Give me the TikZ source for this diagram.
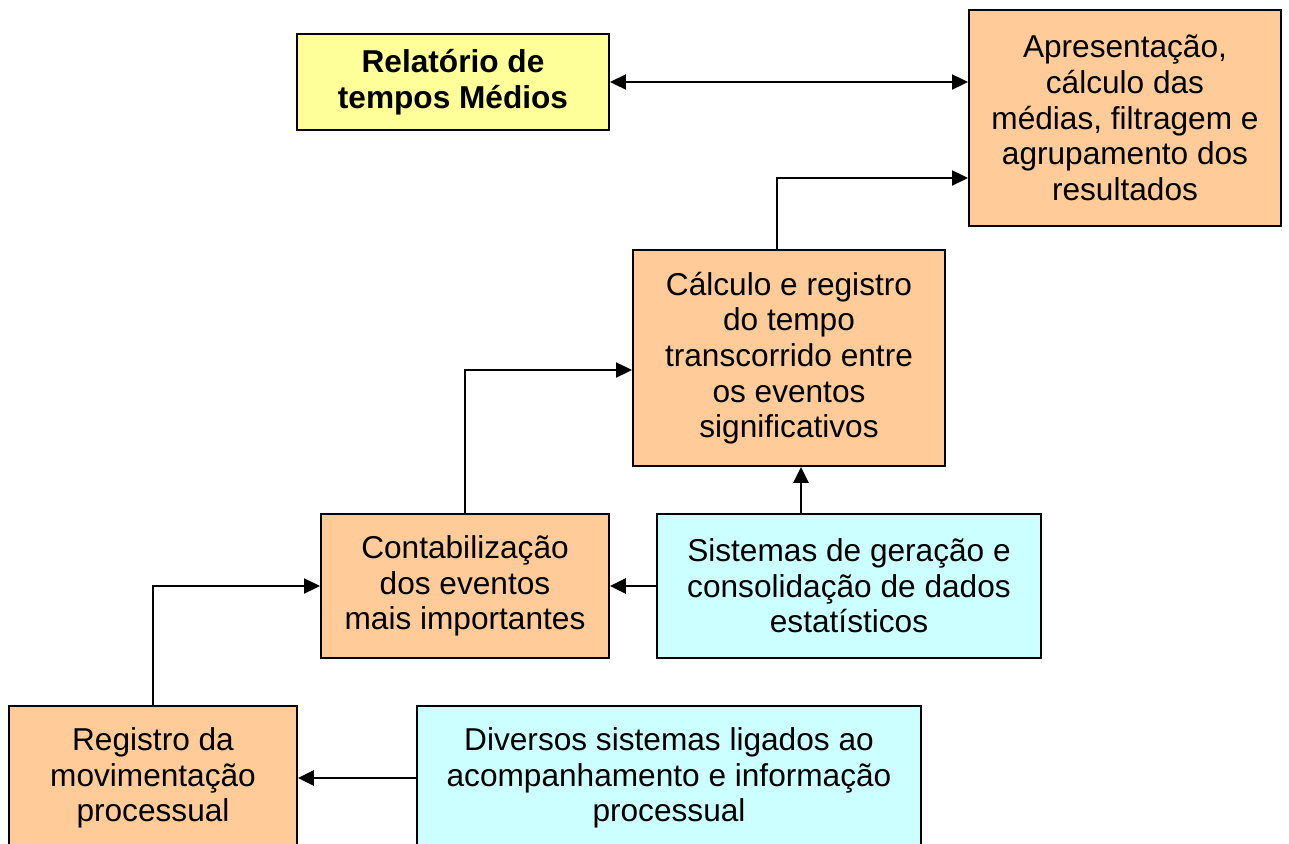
\documentclass[tikz,border=0pt]{standalone}
\usepackage{fontspec}
\setmainfont{Liberation Sans}
\usetikzlibrary{arrows.meta,calc}
\definecolor{orng}{HTML}{FFCC99}
\definecolor{yell}{HTML}{FFFF99}
\definecolor{cyn}{HTML}{CCFFFF}
\begin{document}
\begin{tikzpicture}[
  x=0.02cm,y=-0.02cm,
  box/.style={draw=black, line width=1.1pt, align=center, inner sep=2pt,
    font=\fontsize{18}{20.3}\selectfont},
  obox/.style={box, fill=orng},
  arr/.style={line width=1.1pt, -{Triangle[length=0.32cm,width=0.3cm]}},
  thick arr/.style={arr, line width=1.6pt},
]
\useasboundingbox (0,0) rectangle (1289,843);
\clip (0,0) rectangle (1289,843);
\node[box, fill=yell, minimum width=6.24cm, minimum height=1.92cm, font=\fontsize{18}{20.3}\selectfont\bfseries] (rel) at (453,82) {Relatório de\\tempos Médios};
\node[obox, minimum width=6.24cm, minimum height=4.32cm] (apr) at (1125,118) {Apresentação,\\cálculo das\\médias, filtragem e\\agrupamento dos\\resultados};
\node[obox, minimum width=6.24cm, minimum height=4.32cm] (calc) at (789,358) {Cálculo e registro\\do tempo\\transcorrido entre\\os eventos\\significativos};
\node[obox, minimum width=5.76cm, minimum height=2.88cm] (cont) at (465,586) {Contabilização\\dos eventos\\mais importantes};
\node[box, fill=cyn, minimum width=7.68cm, minimum height=2.88cm] (sis) at (849,586) {Sistemas de geração e\\consolidação de dados\\estatísticos};
\node[obox, minimum width=5.76cm, minimum height=2.88cm] (reg) at (153,778) {Registro da\\movimentação\\processual};
\node[box, fill=cyn, minimum width=10.08cm, minimum height=2.88cm] (div) at (669,778) {Diversos sistemas ligados ao\\acompanhamento e informação\\processual};
\draw[line width=1.1pt, {Triangle[length=0.32cm,width=0.3cm]}-{Triangle[length=0.32cm,width=0.3cm]}] (rel.east) -- (rel.east -| apr.west);
\draw[arr] ([xshift=-0.24cm]calc.north) |- ([yshift=-1.2cm]apr.west);
\draw[arr] (cont.north) |- ([yshift=-0.24cm]calc.west);
\draw[arr] (reg.north) |- (cont.west);
\draw[thick arr] (sis.west) -- (cont.east);
\draw[thick arr] ([xshift=-0.96cm]sis.north) -- ([xshift=-0.96cm]sis.north |- calc.south);
\draw[thick arr] (div.west) -- (reg.east);
\end{tikzpicture}
\end{document}
